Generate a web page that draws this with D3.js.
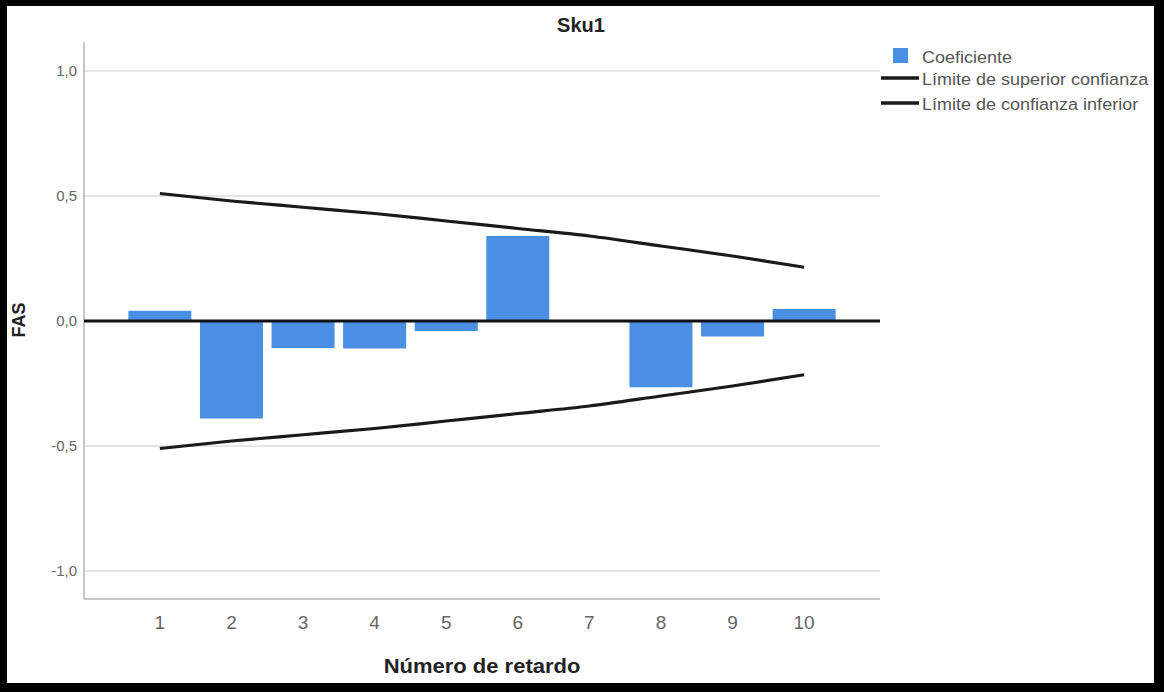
<!DOCTYPE html>
<html><head><meta charset="utf-8">
<script src="https://cdn.jsdelivr.net/npm/d3@7/dist/d3.min.js"></script>
<style>body{margin:0;background:#000;}svg{display:block;}</style>
</head><body><svg id="c" width="1164" height="692"></svg>
<script>
const lags = [1,2,3,4,5,6,7,8,9,10];
const coef = [0.041,-0.39,-0.108,-0.11,-0.04,0.34,0,-0.265,-0.062,0.048];
const upperLimit = [0.51,0.48,0.455,0.43,0.40,0.37,0.34,0.30,0.26,0.215];
const lowerLimit = [-0.51,-0.48,-0.455,-0.43,-0.40,-0.37,-0.34,-0.30,-0.26,-0.215];
const yTicks = [1.0,0.5,0.0,-0.5,-1.0];
const yTickLabels = ["1,0","0,5","0,0","-0,5","-1,0"];
const legendLabels = ["Coeficiente","Límite de superior confianza","Límite de confianza inferior"];

const svg = d3.select("#c");
svg.append("rect").attr("x",0).attr("y",0).attr("width",1164).attr("height",692).attr("fill","#000");
svg.append("rect").attr("x",7).attr("y",6).attr("width",1147).attr("height",677).attr("fill","#fff");

const L=84,R=880,T=42,B=599;
const x = d3.scaleBand().domain(lags).range([L,R]).paddingInner(0.12).paddingOuter(0.62);
const y = d3.scaleLinear().domain([-1.112,1.116]).range([B,T]);
const font = "'Liberation Sans', Arial, sans-serif";

// grid
svg.selectAll(".grid").data(yTicks.filter(d=>d!==0)).enter().append("line")
  .attr("x1",L).attr("x2",R).attr("y1",d=>y(d)).attr("y2",d=>y(d))
  .attr("stroke","#dcdcdc").attr("stroke-width",1.5);

// axes lines
svg.append("line").attr("x1",L).attr("x2",L).attr("y1",T).attr("y2",B).attr("stroke","#b4b4b4").attr("stroke-width",1.5);
svg.append("line").attr("x1",L).attr("x2",R).attr("y1",B).attr("y2",B).attr("stroke","#b4b4b4").attr("stroke-width",1.5);

// bars
svg.selectAll(".bar").data(lags).enter().append("rect")
  .attr("x",d=>x(d)).attr("width",x.bandwidth())
  .attr("y",(d,i)=>y(Math.max(0,coef[i])))
  .attr("height",(d,i)=>Math.abs(y(coef[i])-y(0)))
  .attr("fill","#4a8fe2");

// zero line
svg.append("line").attr("x1",L).attr("x2",R).attr("y1",y(0)).attr("y2",y(0)).attr("stroke","#111").attr("stroke-width",3);

// limits
const line = d3.line().x(d=>x(d[0])+x.bandwidth()/2).y(d=>y(d[1])).curve(d3.curveMonotoneX);
[upperLimit,lowerLimit].forEach(arr=>{
  svg.append("path").attr("d",line(lags.map((l,i)=>[l,arr[i]])))
    .attr("fill","none").attr("stroke","#1a1a1a").attr("stroke-width",3.2);
});

// y ticks
svg.selectAll(".yt").data(yTicks).enter().append("text")
  .attr("x",77).attr("y",d=>y(d)).attr("dy","0.35em").attr("text-anchor","end")
  .attr("font-family",font).attr("font-size",15).attr("fill","#666")
  .text((d,i)=>yTickLabels[i]);

// x ticks
svg.selectAll(".xt").data(lags).enter().append("text")
  .attr("x",d=>x(d)+x.bandwidth()/2).attr("y",629).attr("text-anchor","middle")
  .attr("font-family",font).attr("font-size",19).attr("fill","#666")
  .text(d=>d);

// titles
svg.append("text").attr("x",581).attr("y",32).attr("text-anchor","middle")
  .attr("font-family",font).attr("font-weight","bold").attr("font-size",20).attr("fill","#222").text("Sku1");
svg.append("text").attr("transform","translate(482,673) scale(1.1,1)").attr("text-anchor","middle")
  .attr("font-family",font).attr("font-weight","bold").attr("font-size",20).attr("fill","#222").text("Número de retardo");
svg.append("text").attr("transform","translate(25,320) rotate(-90)").attr("text-anchor","middle")
  .attr("font-family",font).attr("font-weight","bold").attr("font-size",18).attr("fill","#222").text("FAS");

// legend
svg.append("rect").attr("x",893).attr("y",48).attr("width",15).attr("height",15).attr("fill","#4a8fe2");
svg.append("line").attr("x1",881).attr("x2",919).attr("y1",78).attr("y2",78).attr("stroke","#1a1a1a").attr("stroke-width",3.5);
svg.append("line").attr("x1",881).attr("x2",919).attr("y1",103).attr("y2",103).attr("stroke","#1a1a1a").attr("stroke-width",3.5);
const ly=[57,79,104];
legendLabels.forEach((t,i)=>{
  svg.append("text").attr("transform",`translate(922,${ly[i]}) scale(1.06,1)`).attr("dy","0.35em")
    .attr("font-family",font).attr("font-size",17).attr("fill","#555").text(t);
});
</script></body></html>
